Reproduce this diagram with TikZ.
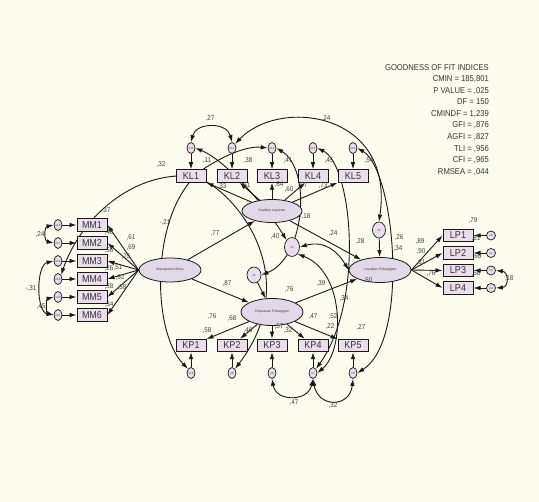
\documentclass[tikz,border=0pt]{standalone}
\usepackage{fontspec}
\setmainfont{Liberation Sans}
\newfontfamily\narrowsans[FakeStretch=0.9]{Liberation Sans}
\usepackage{xcolor}
\usepackage{tikz}
\usetikzlibrary{arrows.meta,shapes.geometric}
\definecolor{paper}{RGB}{252,252,238}
\definecolor{boxfill}{RGB}{236,220,236}
\definecolor{latfill}{RGB}{226,216,232}
\definecolor{ink}{RGB}{25,25,25}
\pgfdeclarelayer{back}
\pgfdeclarelayer{lines}
\pgfsetlayers{back,lines,main}

\begin{document}
\begin{tikzpicture}[x=1pt,y=-1pt,
  obs/.style={draw=ink,fill=boxfill,line width=1pt,minimum width=30pt,minimum height=12.5pt,inner sep=0pt,
    font=\narrowsans\fontsize{10}{10}\selectfont,text=black!80},
  lat/.style={ellipse,draw=ink,fill=latfill,line width=0.8pt,inner sep=0pt,font=\fontsize{3.5}{4}\selectfont,text=black!75},
  err/.style={ellipse,draw=ink,fill=boxfill,line width=0.7pt,minimum width=8pt,minimum height=11pt,inner sep=0pt,
    font=\fontsize{3}{3}\selectfont,text=black!75},
  est/.style={font=\narrowsans\fontsize{7}{7}\selectfont,text=black!75,inner sep=0pt},
  reg/.style={-{Latex[length=7pt,width=4.6pt]},line width=0.9pt,draw=ink},
  cov/.style={{Latex[length=7pt,width=4.6pt]}-{Latex[length=7pt,width=4.6pt]},line width=0.9pt,draw=ink}]
  \begin{pgfonlayer}{back}
    \fill[paper] (0,0) rectangle (539,502);
  \end{pgfonlayer}
  \useasboundingbox (0,0) rectangle (539,502);

  \node[anchor=north east,align=right,inner sep=0pt,text=black!80,
    font=\narrowsans\fontsize{8.5}{11.56}\selectfont] (gof) at (489,64)
    {GOODNESS OF FIT INDICES\\CMIN = 185,801\\P VALUE = ,025\\DF = 150\\CMINDF = 1,239\\
     GFI = ,876\\AGFI = ,827\\TLI = ,956\\CFI = ,965\\RMSEA = ,044};

  \node[lat,minimum width=62pt,minimum height=24pt] (mutu) at (170,270) {Manajemen Mutu};
  \node[lat,minimum width=60pt,minimum height=23pt] (layanan) at (272,211) {Kualitas Layanan};
  \node[lat,minimum width=62pt,minimum height=27pt] (kepuasan) at (272,312) {Kepuasan Pelanggan};
  \node[lat,minimum width=62pt,minimum height=25pt] (loyal) at (380,270) {Loyalitas Pelanggan};
  \node[err,minimum width=15pt,minimum height=19pt] (z1) at (292,247) {z1};
  \node[err,minimum width=14pt,minimum height=16pt] (z2) at (254,275) {z2};
  \node[err,minimum width=13pt,minimum height=16pt] (z3) at (379,230) {z3};

  \foreach \i/\x in {1/191,2/232,3/272,4/313,5/353}{
    \node[obs] (kl\i) at (\x,176) {KL\i};
    \node[err] (ekl\i) at (\x,148) {e\the\numexpr10+\i\relax};
    \node[obs] (kp\i) at (\x,345.5) {KP\i};
    \node[err] (ekp\i) at (\x,373) {e\the\numexpr11-\i\relax};
    \draw[reg] (ekl\i) -- (kl\i);
    \draw[reg] (ekp\i) -- (kp\i);
    \draw[reg] (layanan) -- (kl\i);
    \draw[reg] (kepuasan) -- (kp\i);}
  \foreach \i/\y in {1/225,2/243,3/261,4/279,5/297,6/315}{
    \node[obs] (mm\i) at (92,\y) {MM\i};
    \node[err] (emm\i) at (58,\y) {e\the\numexpr15+\i\relax};
    \draw[reg] (emm\i) -- (mm\i);
    \draw[reg] (mutu.west) -- (mm\i.east);}
  \foreach \i/\y in {1/235.5,2/253,3/270.5,4/288}{
    \node[obs] (lp\i) at (458,\y) {LP\i};
    \node[err,minimum width=9pt,minimum height=9pt] (elp\i) at (491,\y) {e\i};
    \draw[reg] (elp\i) -- (lp\i);
    \draw[reg] (loyal.east) -- (lp\i.west);}

  \draw[reg] (mutu) -- (layanan);
  \draw[reg] (mutu) -- (kepuasan);
  \draw[reg] (layanan) -- (loyal);
  \draw[reg] (kepuasan) -- (loyal);
  \draw[reg] (z2) -- (kepuasan);
  \draw[reg] (z3) -- (loyal);

  \begin{pgfonlayer}{lines}
    \draw[cov] (ekl1.north) .. controls (196,122) and (227,122) .. (ekl2.north);
    \draw[cov] (ekl2.north east) .. controls (280,97) and (395,112) .. (z3.north);
    \draw[cov] (emm4.north east) .. controls (80,220) and (130,172) .. (kl1.center)
      .. controls (225,180) and (310,270) .. (ekp2.north east);
    \draw[cov] (ekp1.north west) .. controls (150,330) and (150,205) .. (205,168)
      .. controls (230,152) and (250,146) .. (ekl3.west);
    \draw[cov] (ekl1.east) .. controls (225,160) and (265,205) .. (z1.north west);
    \draw[cov] (z2.east) .. controls (305,258) and (312,170) .. (ekl3.east);
    \draw[cov] (ekl4.east) .. controls (352,165) and (365,300) .. (ekp4.north east);
    \draw[cov] (ekl5.east) .. controls (395,170) and (410,340) .. (ekp5.east);
    \draw[cov] (z1.south east) .. controls (345,272) and (345,350) .. (ekp4.east);
    \draw[cov] (z1.east) .. controls (325,240) and (338,252) .. (loyal.west);
    \draw[cov] (ekp3.south) .. controls (276,402) and (308,402) .. (ekp4.south);
    \draw[cov] (ekp4.south) .. controls (318,408) and (350,408) .. (ekp5.south);
    \draw[cov] (elp3.east) .. controls (509,272) and (509,287) .. (elp4.east);
    \draw[cov] (emm1.west) .. controls (44,227) and (44,241) .. (emm2.west);
    \draw[cov] (emm3.west) .. controls (36,265) and (36,312) .. (emm6.west);
    \draw[cov] (emm5.west) .. controls (46,299) and (46,313) .. (emm6.west);
  \end{pgfonlayer}

  \foreach \x/\y/\t [count=\n] in {210/119/{,27}, 326/119/{,24},
      207/161/{,11}, 248/161/{,38}, 288/161/{,41}, 329/161/{,45}, 369/161/{,54},
      222/187/{,33}, 246/186/{,61}, 279/185/{,64}, 303/186/{,67}, 323/186/{,73}, 289/190/{,60},
      161/165/{,32}, 106/211/{,37}, 165/223/{-,21}, 305/217/{-,18}, 215/234/{,77}, 227/284/{,87},
      275/237/{,40}, 333/234/{,24}, 360/242/{,28}, 399/238/{,26}, 398/249/{,34}, 321/284/{,39},
      289/290/{,76}, 344/299/{,34}, 368/281/{,50},
      212/317/{,76}, 232/319/{,68}, 279/327/{,57}, 313/317/{,47}, 333/317/{,52},
      207/331/{,58}, 248/331/{,46}, 288/331/{,32}, 330/327/{,22}, 361/328/{,27},
      294/403/{,47}, 333/406/{,32},
      131/238/{,61}, 131/248/{,69}, 126/257/{,75}, 118/268/{,51}, 120/278/{,62}, 122/288/{,58},
      109/233/{,48}, 109/251/{,56}, 109/269/{,26}, 109/287/{,38}, 109/305/{,34},
      40/235/{,24}, 31/289/{-,31}, 41/307/{,45},
      473/221/{,79}, 420/242/{,89}, 421/252/{,90}, 421/263/{,81}, 431/274/{,76},
      476/239/{,81}, 477/257/{,66}, 476/274/{,58}, 509/279/{,18}}{
    \node[est] (est\n) at (\x,\y) {\t};}
\end{tikzpicture}
\end{document}
